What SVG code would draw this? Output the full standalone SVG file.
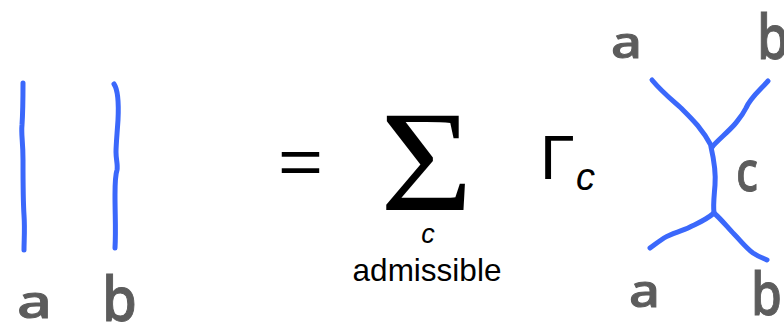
<svg xmlns="http://www.w3.org/2000/svg" width="784" height="326" viewBox="0 0 784 326">
<style>
.str{fill:none;stroke:#3b68fb;stroke-width:5;stroke-linecap:round;stroke-linejoin:round}
.hw{font-family:"Noto Sans","DejaVu Sans",sans-serif;font-weight:500;fill:#5c5c5c;stroke:#5c5c5c;stroke-width:1;text-anchor:start}
.m{font-family:"Liberation Sans","DejaVu Sans",sans-serif;fill:#000}
</style>
<rect width="784" height="326" fill="#fff"/>
<g id="connectors">
<path class="str" d="M23,83 C23,100 23,110 22,125 C21,135 23,140 23,160 C23,185 23,200 24,215 C25,230 24,240 24,250"/>
<path class="str" d="M114,84 C118,90 119,100 118,120 C117,135 116,145 116,152 C116,160 118,165 117,170 C115,176 115,182 115,195 C115,215 116,230 115,248"/>
<path class="str" d="M652,80 C662,92 672,100 681,108 C690,117 702,128 712,147"/>
<path class="str" d="M768,81 C760,90 750,98 746,108 C742,116 738,120 735,124 C728,132 718,140 712,147"/>
<path class="str" d="M711,147 C714,160 716,172 715,185 C714,198 713,205 714,213"/>
<path class="str" d="M714,213 C706,220 698,223 690,227 C680,232 672,233 664,238 C658,242 654,245 650,248"/>
<path class="str" d="M714,213 C722,220 728,228 734,234 C740,240 746,248 753,253 C759,257 763,258 767,260"/>
</g>
<g id="left-labels">
<text class="hw" x="17" y="318" font-size="46" textLength="35" lengthAdjust="spacingAndGlyphs">a</text>
<text class="hw" x="102" y="321" font-size="62" textLength="35" lengthAdjust="spacingAndGlyphs">b</text>
</g>
<g id="formula">
<text class="m" x="278" y="184" font-size="64" textLength="45" lengthAdjust="spacingAndGlyphs" font-weight="300">=</text>
<text x="380" y="210" font-family="Liberation Serif, DejaVu Serif, serif" font-size="143" textLength="93" lengthAdjust="spacingAndGlyphs">Σ</text>
<text class="m" x="428" y="243" font-size="27" font-style="italic" text-anchor="middle">c</text>
<text class="m" x="427" y="281" font-size="31.5" text-anchor="middle">admissible</text>
<text class="m" x="540" y="179" font-size="63">Γ</text>
<text class="m" x="576" y="190" font-size="38" font-style="italic">c</text>
</g>
<g id="right-labels">
<text class="hw" x="611" y="58" font-size="44" textLength="31" lengthAdjust="spacingAndGlyphs">a</text>
<text class="hw" x="757" y="59" font-size="62" textLength="32" lengthAdjust="spacingAndGlyphs">b</text>
<text class="hw" x="736" y="191" font-size="56" textLength="22" lengthAdjust="spacingAndGlyphs">c</text>
<text class="hw" x="629" y="307" font-size="46" textLength="31" lengthAdjust="spacingAndGlyphs">a</text>
<text class="hw" x="751" y="315" font-size="60" textLength="31" lengthAdjust="spacingAndGlyphs">b</text>
</g>
</svg>
